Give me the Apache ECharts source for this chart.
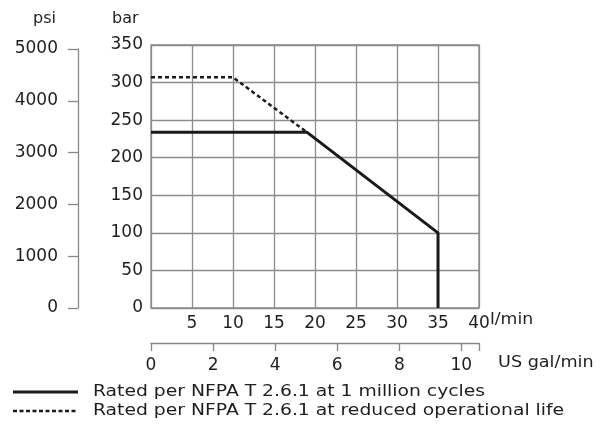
<!DOCTYPE html>
<html><head><meta charset="utf-8">
<script src="https://cdn.jsdelivr.net/npm/echarts@6/dist/echarts.min.js"></script>
<style>html,body{margin:0;padding:0;background:#fff}#c{width:601px;height:424px}</style>
</head><body><div id="c"></div>
<script>
// data
const flowTicks = [5, 10, 15, 20, 25, 30, 35, 40];      // l/min
const galTicks = [0, 2, 4, 6, 8, 10];                    // US gal/min
const barTicks = [0, 50, 100, 150, 200, 250, 300, 350];   // bar
const psiTicks = [0, 1000, 2000, 3000, 4000, 5000];       // psi
const ratedFlow = [0, 19, 35, 35];
const ratedBar = [234, 234, 100, 0];
const reducedFlow = [0, 10, 19];
const reducedBar = [307, 307, 234];
const seriesNames = ['Rated per NFPA T 2.6.1 at 1 million cycles', 'Rated per NFPA T 2.6.1 at reduced operational life'];

const LPM_PER_GAL = 3.785;
const BAR_TO_PSI = 14.5038;
const font = 'DejaVu Sans';
const txt = '#1e1e1e';
const gridCol = '#8c8c8c';
const axCol = '#888';
const fs = 17;

const chart = echarts.init(document.getElementById('c'));
const xMax = 40, yMax = 350;
const plotTop = 45, plotBottom = 308;
const psiTop = plotBottom - 5000 / (yMax * BAR_TO_PSI) * (plotBottom - plotTop);
chart.setOption({
  animation: false,
  grid: [
    {left: 151, right: 122, top: plotTop, bottom: 424 - plotBottom, show: true, borderColor: axCol, borderWidth: 1.3},
    {left: 78, right: 122, top: psiTop, bottom: 424 - plotBottom, show: false}
  ],
  xAxis: [
    {type: 'value', gridIndex: 0, min: 0, max: xMax, interval: 5,
     axisLine: {show: false}, axisTick: {show: false},
     splitLine: {show: true, lineStyle: {color: gridCol, width: 1.3}},
     axisLabel: {margin: 7, fontFamily: font, fontSize: fs, color: txt,
       formatter: v => flowTicks.includes(v) ? String(v) : ''}},
    {type: 'value', gridIndex: 0, position: 'bottom', offset: 35, min: 0, max: xMax / LPM_PER_GAL, interval: 2,
     axisLine: {show: true, lineStyle: {color: axCol, width: 1.3}},
     axisTick: {show: true, length: 8, lineStyle: {color: axCol, width: 1.3}},
     splitLine: {show: false}, showMaxLabel: false,
     axisLabel: {margin: 14, fontFamily: font, fontSize: fs, color: txt,
       formatter: v => galTicks.includes(v) ? String(v) : ''}},
    {type: 'value', gridIndex: 1, min: 0, max: xMax, show: false}
  ],
  yAxis: [
    {type: 'value', gridIndex: 0, min: 0, max: yMax, interval: 50,
     axisLine: {show: false}, axisTick: {show: false},
     splitLine: {show: true, lineStyle: {color: gridCol, width: 1.3}},
     axisLabel: {margin: 8, fontFamily: font, fontSize: fs, color: txt,
       formatter: v => barTicks.includes(v) ? String(v) : ''}},
    {type: 'value', gridIndex: 1, position: 'left', min: 0, max: 5000, interval: 1000,
     axisLine: {show: true, lineStyle: {color: axCol, width: 1.3}},
     axisTick: {show: true, length: 10, lineStyle: {color: axCol, width: 1.3}},
     splitLine: {show: false},
     axisLabel: {margin: 20, fontFamily: font, fontSize: fs, color: txt,
       formatter: v => psiTicks.includes(v) ? String(v) : ''}}
  ],
  graphic: [
    {type: 'text', x: 33, y: 11, style: {text: 'psi', font: '16px ' + font, fill: txt}},
    {type: 'text', x: 112, y: 11, style: {text: 'bar', font: '16px ' + font, fill: txt}},
    {type: 'text', x: 490, y: 312, scaleX: 1.08, style: {text: 'l/min', font: '16px ' + font, fill: txt}},
    {type: 'text', x: 498, y: 355, scaleX: 1.1, style: {text: 'US gal/min', font: '16px ' + font, fill: txt}},
    {type: 'line', shape: {x1: 13, y1: 392, x2: 78, y2: 392}, style: {stroke: '#1a1a1a', lineWidth: 3}},
    {type: 'line', shape: {x1: 13, y1: 411, x2: 78, y2: 411}, style: {stroke: '#1a1a1a', lineWidth: 2.5, lineDash: [4, 2.5]}},
    {type: 'text', x: 93, y: 385, scaleX: 1.25, style: {text: seriesNames[0], font: '15px ' + font, fill: txt}},
    {type: 'text', x: 93, y: 404, scaleX: 1.25, style: {text: seriesNames[1], font: '15px ' + font, fill: txt}}
  ],
  series: [
    {name: seriesNames[0], type: 'line', xAxisIndex: 0, yAxisIndex: 0, symbol: 'none',
     lineStyle: {color: '#1a1a1a', width: 3, type: 'solid'},
     data: ratedFlow.map((x, i) => [x, ratedBar[i]])},
    {name: seriesNames[1], type: 'line', xAxisIndex: 0, yAxisIndex: 0, symbol: 'none',
     lineStyle: {color: '#1a1a1a', width: 2.5, type: [4, 3]},
     data: reducedFlow.map((x, i) => [x, reducedBar[i]])}
  ]
});
</script></body></html>
